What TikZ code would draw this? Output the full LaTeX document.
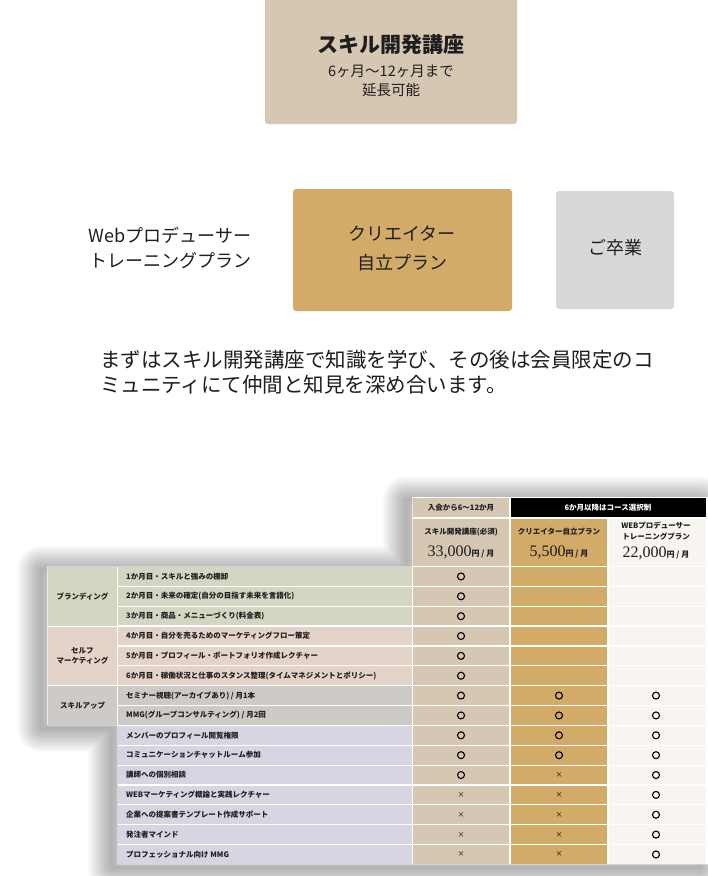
\documentclass[tikz,border=0pt]{standalone}
\usepackage{fontspec}
\setmainfont{Noto Sans CJK JP}
\newfontfamily\numfont{Liberation Serif}
\definecolor{tanbox}{HTML}{D6C7B3}
\definecolor{goldbox}{HTML}{D3AB68}
\definecolor{graybox}{HTML}{D9D8D6}
\definecolor{creamcell}{HTML}{F8F5F1}
\definecolor{sagecell}{HTML}{D4D5C3}
\definecolor{blushcell}{HTML}{E3D3C9}
\definecolor{stonecell}{HTML}{CECBC7}
\definecolor{lavcell}{HTML}{D7D5E1}
\definecolor{inktext}{HTML}{1E1E1E}
\begin{document}
\begin{tikzpicture}[x=1pt,y=-1pt,
  every node/.style={inner sep=0pt, text=inktext},
  bigbox/.style={rounded corners=3pt},
  midtext/.style={font=\fontsize{18}{18}\selectfont},
  paratext/.style={font=\fontsize{20.5}{20.5}\selectfont, anchor=west},
  itemtext/.style={font=\bfseries\fontsize{7.5}{7.5}\selectfont, anchor=west},
  grouptext/.style={font=\bfseries\fontsize{7.5}{10}\selectfont, align=center},
  headtext/.style={font=\bfseries\fontsize{7.5}{11}\selectfont, align=center},
  omark/.style={circle, draw=black, line width=1.1pt, minimum size=7pt, inner sep=0pt},
  xmark/.style={font=\fontsize{7}{7}\selectfont, text=black}
]
\useasboundingbox (0,0) rectangle (708,876);
\fill[white] (0,0) rectangle (708,876);

% ---- top box
\fill[tanbox, bigbox] (265,-6) rectangle (517,124);
\node[font=\bfseries\fontsize{21}{21}\selectfont] (title) at (391,45) {スキル開発講座};
\node[font=\fontsize{14.5}{14.5}\selectfont] (period) at (391,71) {6ヶ月〜12ヶ月まで};
\node[font=\fontsize{14.5}{14.5}\selectfont] (ext) at (391,90) {延長可能};

% ---- middle row
\node[midtext] (web1) at (170,235) {Webプロデューサー};
\node[midtext] (web2) at (170,261) {トレーニングプラン};
\fill[goldbox, bigbox] (293,189) rectangle (512,311);
\node[midtext] (cr1) at (402,234) {クリエイター};
\node[midtext] (cr2) at (402,263) {自立プラン};
\fill[graybox, bigbox] (556,191) rectangle (674,309);
\node[midtext] (grad) at (615,248) {ご卒業};

% ---- paragraph
\node[paratext] (p1) at (100,360) {まずはスキル開発講座で知識を学び、その後は会員限定のコ};
\node[paratext] (p2) at (100,385) {ミュニティにて仲間と知見を深め合います。};

% ---- table shadow
\foreach \w in {3,6,...,48}{
  \draw[line width=\w pt, black, opacity=0.018, line join=round, xshift=-6pt, yshift=-3pt]
    (412.3,497) -- (705.5,497) -- (705.5,864.4) -- (117.7,864.4) -- (117.7,725.4)
    -- (47.3,725.4) -- (47.3,566.5) -- (412.3,566.5) -- cycle;
}
\fill[white] (412.3,497) -- (708,497) -- (708,864.4) -- (117.7,864.4) -- (117.7,725.4)
    -- (47.3,725.4) -- (47.3,566.5) -- (412.3,566.5) -- cycle;

% ---- table header
\fill[tanbox] (412.9,497.6) rectangle (509.4,517.4);
\fill[black] (510.6,497.6) rectangle (705.5,517.4);
\fill[tanbox] (412.9,518.6) rectangle (509.4,565.9);
\fill[goldbox] (510.6,518.6) rectangle (607.4,565.9);
\fill[creamcell] (608.6,518.6) rectangle (705.5,565.9);
\node[headtext] (hA) at (461,507.5) {入会から6〜12か月};
\node[headtext, text=white] (hBC) at (608,507.5) {6か月以降はコース選択制};
\node[headtext] (nA) at (461,532) {スキル開発講座(必須)};
\node[headtext] (nB) at (559,532) {クリエイター自立プラン};
\node[headtext] (nC) at (656,531) {WEBプロデューサー\\トレーニングプラン};
\node[font=\bfseries\fontsize{8}{8}\selectfont] (pA) at (461,552) {{\numfont\mdseries\fontsize{16}{16}\selectfont 33,000}円 / 月};
\node[font=\bfseries\fontsize{8}{8}\selectfont] (pB) at (559,552) {{\numfont\mdseries\fontsize{16}{16}\selectfont 5,500}円 / 月};
\node[font=\bfseries\fontsize{8}{8}\selectfont] (pC) at (656,553) {{\numfont\mdseries\fontsize{16}{16}\selectfont 22,000}円 / 月};

% ---- group label cells
\fill[sagecell] (47.9,567.1) rectangle (117.1,625.6);
\fill[blushcell] (47.9,626.8) rectangle (117.1,685.1);
\fill[stonecell] (47.9,686.3) rectangle (117.1,724.8);
\node[grouptext] (g1) at (82.5,596.5) {ブランディング};
\node[grouptext] (g2) at (82.5,656) {セルフ\\マーケティング};
\node[grouptext] (g3) at (82.5,705.5) {スキルアップ};

% ---- body rows
\foreach \i/\c/\txt in {
  0/sagecell/{1か月目・スキルと強みの棚卸},
  1/sagecell/{2か月目・未来の確定(自分の目指す未来を言語化)},
  2/sagecell/{3か月目・商品・メニューづくり(料金表)},
  3/blushcell/{4か月目・自分を売るためのマーケティングフロー策定},
  4/blushcell/{5か月目・プロフィール・ポートフォリオ作成レクチャー},
  5/blushcell/{6か月目・稼働状況と仕事のスタンス整理(タイムマネジメントとポリシー)},
  6/stonecell/{セミナー視聴(アーカイブあり) / 月1本},
  7/stonecell/{MMG(グループコンサルティング) / 月2回},
  8/lavcell/{メンバーのプロフィール閲覧権限},
  9/lavcell/{コミュニケーションチャットルーム参加},
  10/lavcell/{講師への個別相談},
  11/lavcell/{WEBマーケティング概論と実践レクチャー},
  12/lavcell/{企業への提案書テンプレート作成サポート},
  13/lavcell/{発注者マインド},
  14/lavcell/{プロフェッショナル向け MMG}}{
  \pgfmathsetmacro\ya{566.5+\i*19.86}
  \pgfmathsetmacro\yb{\ya+19.86}
  \pgfmathsetmacro\ym{\ya+9.93}
  \fill[\c] (118.3,\ya+0.6) rectangle (411.7,\yb-0.6);
  \fill[tanbox] (412.9,\ya+0.6) rectangle (509.4,\yb-0.6);
  \fill[goldbox] (510.6,\ya+0.6) rectangle (607.4,\yb-0.6);
  \fill[creamcell] (608.6,\ya+0.6) rectangle (705.5,\yb-0.6);
  \node[itemtext] (item\i) at (126,\ym) {\txt};
}

% ---- marks
\foreach \i in {0,...,10}{
  \pgfmathsetmacro\ym{566.5+\i*19.86+9.93}
  \node[omark] (a\i) at (461,\ym) {};
}
\foreach \i in {11,...,14}{
  \pgfmathsetmacro\ym{566.5+\i*19.86+9.93}
  \node[xmark] (a\i) at (461,\ym) {×};
}
\foreach \i in {6,...,9}{
  \pgfmathsetmacro\ym{566.5+\i*19.86+9.93}
  \node[omark] (b\i) at (559,\ym) {};
}
\foreach \i in {10,...,14}{
  \pgfmathsetmacro\ym{566.5+\i*19.86+9.93}
  \node[xmark] (b\i) at (559,\ym) {×};
}
\foreach \i in {6,...,14}{
  \pgfmathsetmacro\ym{566.5+\i*19.86+9.93}
  \node[omark] (c\i) at (656,\ym) {};
}
\end{tikzpicture}
\end{document}
